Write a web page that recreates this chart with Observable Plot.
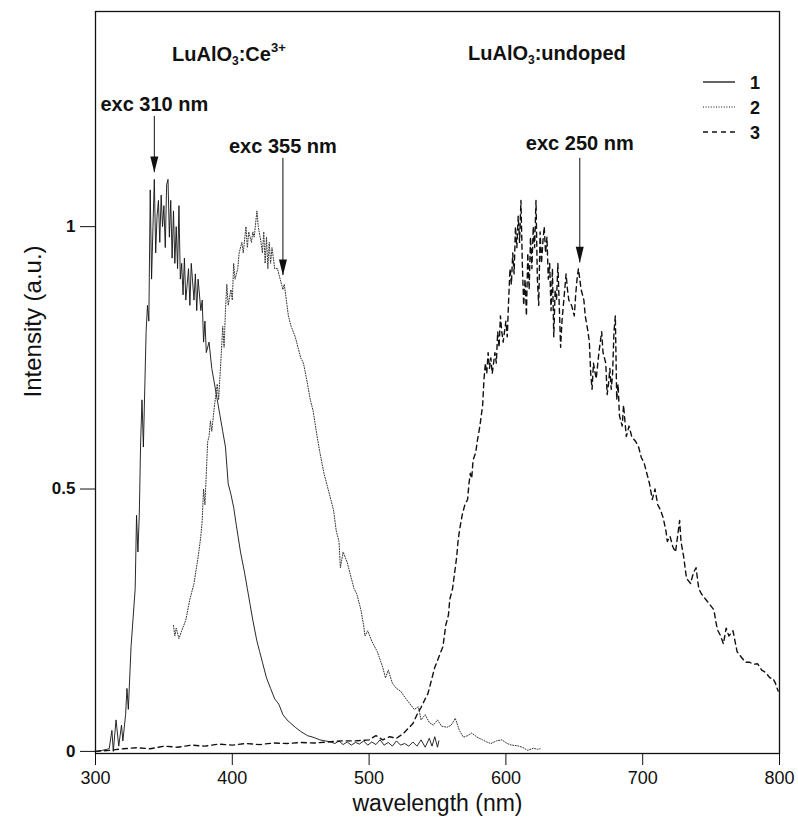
<!DOCTYPE html>
<html><head><meta charset="utf-8">
<script src="https://cdn.jsdelivr.net/npm/d3@7"></script>
<script src="https://cdn.jsdelivr.net/npm/@observablehq/plot@0.6"></script>
<style>
body{margin:0;background:#fff;font-family:"Liberation Sans",Arial,sans-serif}
#wrap{position:relative;width:798px;height:822px}
.ann{position:absolute;font-weight:bold;font-size:20px;white-space:nowrap;color:#111;line-height:1}
.ann sub{font-size:12px;vertical-align:-4px}
.ann sup{font-size:13px;vertical-align:9px}
#legend{position:absolute;left:0;top:0}
</style></head><body><div id="wrap"></div>
<script>
// Curve 1 (solid): LuAlO3:Ce, exc 310 nm
const wl1 = [300,305,310,312,313,315,317,319,320,322,323,324,326,329,330,331,332,333,334,335,337,338,339,340,341,342,343,344,345,346,347,348,349,350,351,352,353,354,355,356,357,358,359,360,361,362,363,364,365,366,368,369,370,372,373,374,375,377,378,379,380,381,383,385,387,389,391,393,395,397,399,401,403,406,409,411,413,415,418,420,422,425,428,431,434,437,440,443,446,450,455,459,464,468,472,475,478,481,484,487,490,493,496,499,502,505,508,511,514,517,520,523,526,529,532,535,538,541,544,546,548,550,551];
const int1 = [0.0,0.002,0.005,0.04,0.0,0.06,0.01,0.05,0.02,0.07,0.12,0.08,0.2,0.31,0.45,0.38,0.45,0.59,0.67,0.58,0.8,0.85,0.82,1.07,0.9,1.0,1.09,0.95,1.02,1.05,0.97,1.06,1.0,1.04,0.96,1.08,1.09,0.98,1.05,0.94,1.03,0.93,1.0,0.92,1.04,0.9,0.93,0.87,0.94,0.86,0.92,0.85,0.93,0.86,0.91,0.84,0.9,0.84,0.86,0.78,0.82,0.76,0.78,0.73,0.7,0.67,0.64,0.61,0.58,0.51,0.49,0.465,0.43,0.38,0.34,0.31,0.28,0.25,0.21,0.19,0.17,0.14,0.12,0.10,0.09,0.07,0.06,0.053,0.046,0.038,0.03,0.027,0.022,0.02,0.018,0.015,0.02,0.013,0.018,0.012,0.017,0.014,0.02,0.012,0.018,0.013,0.022,0.012,0.017,0.01,0.02,0.012,0.015,0.01,0.018,0.01,0.022,0.008,0.025,0.01,0.028,0.008,0.02];

// Curve 2 (dotted): LuAlO3:Ce, exc 355 nm
const wl2 = [357,358,359,361,363,366,369,372,375,377,378,379,380,382,383,384,385,387,389,390,392,393,394,395,396,397,399,400,401,402,404,405,407,408,410,411,412,414,415,416,418,419,421,422,423,424,425,426,427,428,429,431,433,435,437,438,440,441,443,446,448,450,452,455,457,459,462,464,467,470,474,476,478,479,481,484,486,489,491,494,496,497,499,502,506,510,512,514,517,520,523,527,530,533,536,538,541,544,547,550,553,557,560,563,566,569,572,575,579,583,586,589,593,597,601,604,608,612,616,620,623,625];
const int2 = [0.24,0.22,0.235,0.215,0.23,0.25,0.29,0.32,0.37,0.41,0.44,0.5,0.47,0.59,0.6,0.63,0.61,0.66,0.7,0.67,0.76,0.81,0.77,0.84,0.89,0.85,0.88,0.86,0.93,0.9,0.92,0.95,0.97,0.95,1.0,0.96,0.99,0.97,0.99,0.98,1.03,1.0,0.97,0.95,0.99,0.93,0.98,0.92,0.97,0.93,0.96,0.92,0.92,0.9,0.88,0.89,0.85,0.83,0.81,0.79,0.77,0.75,0.74,0.7,0.67,0.65,0.6,0.57,0.53,0.5,0.46,0.42,0.40,0.35,0.38,0.36,0.34,0.31,0.30,0.27,0.24,0.22,0.23,0.21,0.19,0.16,0.14,0.155,0.13,0.12,0.115,0.1,0.09,0.08,0.085,0.06,0.07,0.055,0.05,0.06,0.048,0.046,0.05,0.063,0.04,0.027,0.03,0.035,0.027,0.022,0.018,0.015,0.02,0.022,0.015,0.012,0.011,0.008,0.002,0.006,0.004,0.005];

// Curve 3 (dashed): LuAlO3 undoped, exc 250 nm
const wl3 = [300,310,320,330,340,350,360,370,380,390,400,410,420,430,440,450,460,470,480,490,500,505,510,515,520,525,529,532,535,538,541,543,546,548,551,554,556,558,559,561,562,563,564,565,566,568,570,572,573,574,575,576,578,579,581,583,584,585,586,587,588,589,590,592,593,594,595,596,597,598,600,601,602,603,604,605,606,607,608,609,610,611,612,613,614,615,616,617,618,619,620,621,622,623,624,625,626,627,628,629,630,631,632,633,634,635,636,637,638,639,640,641,642,643,644,645,646,648,650,651,652,653,654,655,657,658,660,661,662,663,664,666,668,669,670,671,673,674,675,676,677,678,679,680,681,682,683,685,686,688,690,692,695,697,699,701,703,705,707,709,711,713,715,717,718,720,722,724,726,727,728,730,732,735,737,739,741,743,746,749,752,754,755,757,759,761,763,766,769,772,775,778,781,784,787,790,793,795,797,799];
const int3 = [0.0,0.002,0.005,0.007,0.005,0.01,0.008,0.012,0.01,0.014,0.012,0.015,0.013,0.016,0.015,0.017,0.016,0.018,0.02,0.02,0.022,0.03,0.022,0.028,0.025,0.034,0.045,0.053,0.07,0.084,0.1,0.11,0.14,0.16,0.18,0.2,0.24,0.26,0.29,0.31,0.33,0.35,0.37,0.40,0.42,0.45,0.47,0.48,0.51,0.53,0.52,0.555,0.57,0.59,0.62,0.66,0.71,0.74,0.72,0.76,0.73,0.75,0.72,0.76,0.74,0.8,0.77,0.83,0.8,0.78,0.82,0.79,0.86,0.92,0.89,0.95,0.91,1.0,0.96,1.02,0.97,1.05,0.93,0.85,0.9,0.83,0.95,0.88,0.98,0.92,1.0,0.96,1.05,0.9,0.85,0.99,0.93,0.97,1.0,0.95,0.98,0.9,0.93,0.84,0.92,0.79,0.88,0.86,0.93,0.85,0.77,0.82,0.85,0.88,0.91,0.88,0.86,0.85,0.83,0.87,0.9,0.92,0.9,0.88,0.86,0.83,0.8,0.78,0.72,0.69,0.74,0.71,0.76,0.78,0.8,0.76,0.74,0.68,0.7,0.73,0.69,0.72,0.8,0.83,0.67,0.7,0.64,0.62,0.66,0.6,0.62,0.6,0.59,0.58,0.56,0.55,0.53,0.51,0.48,0.5,0.47,0.46,0.445,0.42,0.40,0.41,0.39,0.38,0.42,0.44,0.4,0.37,0.33,0.32,0.34,0.35,0.31,0.3,0.29,0.28,0.27,0.24,0.23,0.22,0.205,0.235,0.22,0.23,0.19,0.18,0.17,0.17,0.166,0.167,0.155,0.15,0.14,0.14,0.13,0.115];

const xTicks = [300,400,500,600,700,800];
const yTicks = [0,0.5,1];
const yTickLabels = ["0","0.5","1"];

// excitation annotations
const excLabels = ["exc 310 nm","exc 355 nm","exc 250 nm"];
const excX = [343,437,654];
const excLabelY = [1.232,1.153,1.158];
const excTop = [1.21,1.13,1.13];
const excTip = [1.103,0.907,0.931];

const legendLabels = ["1","2","3"];
const legendDash = ["none","1,1.6","5,4"];

const toRows = (xs, ys) => xs.map((x,i)=>({x, y: ys[i]}));
const rows1 = toRows(wl1,int1), rows2 = toRows(wl2,int2), rows3 = toRows(wl3,int3);
const idx = excLabels.map((_,i)=>i);

const arrowHead = {draw(ctx){ ctx.moveTo(0,0); ctx.lineTo(-4,-16); ctx.lineTo(4,-16); ctx.closePath(); }};

const font = "Liberation Sans, Arial, Helvetica, sans-serif";
const plot = Plot.plot({
  width: 798, height: 822,
  marginLeft: 95, marginRight: 19, marginTop: 11, marginBottom: 69,
  style: {fontFamily: font, color: "#111", background: "white"},
  x: {domain: [300, 800]},
  y: {domain: [-0.004, 1.41]},
  marks: [
    Plot.frame({stroke: "#111", strokeWidth: 1.3}),
    Plot.axisX({ticks: xTicks, tickSize: 12, tickPadding: 6, fontSize: 18, label: null, tickFormat: d => String(d)}),
    Plot.axisY({ticks: yTicks, tickSize: 15, tickPadding: 5, fontSize: 17, fontWeight: "bold", label: null, tickFormat: d => yTickLabels[yTicks.indexOf(d)]}),
    Plot.text(["wavelength (nm)"], {frameAnchor: "bottom", dy: 57, fontSize: 23}),
    Plot.text(["Intensity (a.u.)"], {frameAnchor: "left", dx: -62, dy: 15, rotate: -90, fontSize: 24}),
    Plot.line(rows3, {x: "x", y: "y", stroke: "#111", strokeWidth: 1.4, strokeDasharray: "5,4"}),
    Plot.line(rows2, {x: "x", y: "y", stroke: "#333", strokeWidth: 1, strokeDasharray: "1,1.6"}),
    Plot.line(rows1, {x: "x", y: "y", stroke: "#111", strokeWidth: 0.9}),
    Plot.ruleX(idx, {x: i => excX[i], y1: i => excTop[i], y2: i => excTip[i], stroke: "#111", strokeWidth: 1}),
    Plot.dot(idx, {x: i => excX[i], y: i => excTip[i], symbol: arrowHead, fill: "#111", stroke: "none", r: 4}),
    Plot.text(idx, {x: i => excX[i], y: i => excLabelY[i], text: i => excLabels[i], fontSize: 20, fontWeight: "bold"})
  ]
});
const wrap = document.getElementById("wrap");
wrap.appendChild(plot);

// sample titles (with sub/superscripts) as real text
const t1 = document.createElement("div");
t1.className = "ann"; t1.style.left = "172px"; t1.style.top = "41px";
t1.innerHTML = "LuAlO<sub>3</sub>:Ce<sup>3+</sup>";
const t2 = document.createElement("div");
t2.className = "ann"; t2.style.left = "468px"; t2.style.top = "43px";
t2.innerHTML = "LuAlO<sub>3</sub>:undoped";
wrap.appendChild(t1); wrap.appendChild(t2);

// legend
const lg = d3.select(wrap).append("svg").attr("id","legend").attr("width",798).attr("height",822)
  .style("pointer-events","none");
const rows = lg.selectAll("g").data(legendLabels).join("g")
  .attr("transform", (d,i) => `translate(703,${82 + i*25})`);
rows.append("line").attr("x1",0).attr("x2",32).attr("y1",0).attr("y2",0)
  .attr("stroke","#111").attr("stroke-width",(d,i)=> i===1?1:1.3)
  .attr("stroke-dasharray",(d,i)=>legendDash[i]);
rows.append("text").attr("x",52).attr("y",7).text(d=>d)
  .attr("font-family",font).attr("font-size",18).attr("font-weight","bold").attr("text-anchor","middle").attr("fill","#111");
</script></body></html>
